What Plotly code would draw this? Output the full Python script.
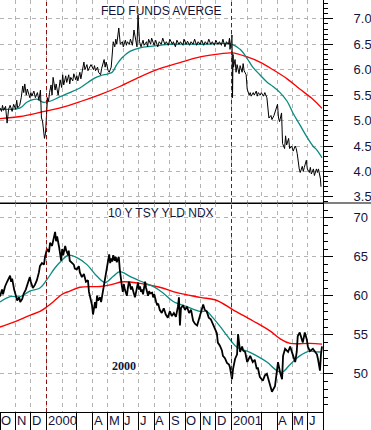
import plotly.graph_objects as go
from plotly.subplots import make_subplots

# ---------------- DATA ----------------
fed_dates = [
"1999-10-01","1999-10-04","1999-10-06","1999-10-08","1999-10-12","1999-10-15","1999-10-18","1999-10-21","1999-10-25","1999-10-28",
"1999-11-01","1999-11-03","1999-11-05","1999-11-09","1999-11-12","1999-11-15","1999-11-17","1999-11-19","1999-11-22","1999-11-24","1999-11-29",
"1999-12-01","1999-12-03","1999-12-07","1999-12-10","1999-12-14","1999-12-17","1999-12-20","1999-12-22","1999-12-24","1999-12-28","1999-12-30",
"2000-01-03","2000-01-05","2000-01-07","2000-01-10","2000-01-12","2000-01-14","2000-01-18","2000-01-20","2000-01-24","2000-01-26","2000-01-28","2000-01-31",
"2000-02-02","2000-02-04","2000-02-08","2000-02-10","2000-02-14","2000-02-16","2000-02-18","2000-02-22","2000-02-24","2000-02-28",
"2000-03-01","2000-03-03","2000-03-07","2000-03-09","2000-03-13","2000-03-15","2000-03-17","2000-03-21","2000-03-23","2000-03-27","2000-03-29",
"2000-04-03","2000-04-05","2000-04-07","2000-04-11","2000-04-13","2000-04-17","2000-04-19","2000-04-24","2000-04-26","2000-04-28",
"2000-05-02","2000-05-04","2000-05-08","2000-05-10","2000-05-12","2000-05-15","2000-05-17","2000-05-19","2000-05-23","2000-05-25","2000-05-26","2000-05-30",
"2000-06-01","2000-06-05","2000-06-07","2000-06-09","2000-06-13","2000-06-15","2000-06-19","2000-06-22","2000-06-26","2000-06-28","2000-06-30",
"2000-07-03","2000-07-06","2000-07-10","2000-07-12","2000-07-17","2000-07-19","2000-07-21","2000-07-25","2000-07-27",
"2000-08-01","2000-08-04","2000-08-08","2000-08-11","2000-08-15","2000-08-18","2000-08-22","2000-08-25","2000-08-29",
"2000-09-01","2000-09-06","2000-09-08","2000-09-12","2000-09-15","2000-09-19","2000-09-22","2000-09-27","2000-09-29",
"2000-10-03","2000-10-06","2000-10-10","2000-10-13","2000-10-17","2000-10-20","2000-10-24","2000-10-27","2000-10-31",
"2000-11-03","2000-11-07","2000-11-10","2000-11-14","2000-11-17","2000-11-21","2000-11-24","2000-11-28",
"2000-12-01","2000-12-05","2000-12-08","2000-12-12","2000-12-15","2000-12-19","2000-12-22","2000-12-26","2000-12-28","2000-12-29",
"2001-01-02","2001-01-03","2001-01-04","2001-01-05","2001-01-08","2001-01-10","2001-01-12","2001-01-16","2001-01-18","2001-01-22","2001-01-24","2001-01-26","2001-01-30",
"2001-02-01","2001-02-05","2001-02-07","2001-02-09","2001-02-13","2001-02-15","2001-02-19","2001-02-21","2001-02-23","2001-02-27",
"2001-03-01","2001-03-05","2001-03-08","2001-03-12","2001-03-14","2001-03-16","2001-03-20","2001-03-22","2001-03-26","2001-03-29",
"2001-04-02","2001-04-04","2001-04-06","2001-04-10","2001-04-12","2001-04-16","2001-04-18","2001-04-20","2001-04-24","2001-04-26","2001-04-30",
"2001-05-03","2001-05-07","2001-05-09","2001-05-11","2001-05-15","2001-05-17","2001-05-21","2001-05-23","2001-05-25","2001-05-29","2001-05-31",
"2001-06-04","2001-06-06","2001-06-08","2001-06-12","2001-06-14","2001-06-18","2001-06-20","2001-06-22","2001-06-26","2001-06-27",
]
fed_vals = [
5.25,5.18,5.30,5.20,5.28,4.95,5.22,5.30,5.18,5.32,
5.22,5.40,5.25,5.30,5.45,5.68,5.55,5.72,5.50,5.62,5.45,
5.55,5.48,5.58,5.45,5.55,5.40,5.60,5.05,5.00,4.65,4.75,
5.45,5.38,5.55,5.70,5.50,5.85,5.60,5.72,5.50,5.62,5.80,5.65,
5.90,5.70,5.88,5.75,5.90,5.72,5.85,5.78,5.92,5.80,
5.88,5.78,5.95,5.82,6.00,6.15,6.00,6.10,5.98,6.05,6.10,
6.00,6.08,5.98,6.05,5.95,5.90,6.02,6.20,6.05,6.15,
5.98,5.95,6.05,6.35,6.55,6.45,6.60,6.50,6.82,6.60,6.50,6.55,
6.45,6.58,6.48,6.55,6.50,6.60,6.48,6.78,6.55,6.45,7.08,
6.55,6.45,6.58,6.48,6.55,6.45,6.60,6.50,6.62,
6.48,6.58,6.45,6.55,6.50,6.62,6.50,6.55,6.48,
6.60,6.50,6.55,6.45,6.58,6.50,6.55,6.48,6.60,
6.50,6.56,6.48,6.55,6.50,6.60,6.48,6.55,6.50,
6.58,6.48,6.55,6.50,6.60,6.50,6.55,6.48,
6.58,6.50,6.55,6.48,6.60,6.45,6.55,6.50,6.62,6.40,
6.68,5.45,6.30,6.05,6.20,5.95,6.10,5.92,6.08,5.95,6.12,5.98,5.90,
5.62,5.50,5.55,5.48,5.55,5.50,5.58,5.48,5.55,5.50,
5.55,5.48,5.55,5.45,5.20,5.05,5.10,5.02,5.10,5.18,
5.32,5.05,4.98,5.15,4.55,4.45,4.70,4.52,4.65,4.45,4.50,
4.40,4.50,4.45,4.35,4.05,3.98,4.10,4.00,4.08,4.22,4.05,
3.98,4.08,3.95,4.05,3.92,4.05,3.98,4.05,3.85,3.70,
]

fed_ma50_dates = ["1999-10-01","1999-11-10","1999-11-23","1999-12-13","1999-12-25","2000-01-08","2000-01-28","2000-02-16","2000-03-07","2000-03-23",
"2000-04-06","2000-04-16","2000-05-02","2000-05-10","2000-05-19","2000-05-29","2000-06-14","2000-07-04","2000-07-24","2000-08-12","2000-09-01",
"2000-10-31","2001-01-02","2001-01-18","2001-02-01","2001-02-12","2001-02-26","2001-03-12","2001-03-24","2001-04-07","2001-04-21","2001-05-03",
"2001-05-16","2001-05-30","2001-06-11","2001-06-19","2001-06-29"]
fed_ma50 = [5.22,5.25,5.36,5.42,5.36,5.38,5.47,5.55,5.64,5.75,
5.84,5.88,5.92,5.95,6.10,6.23,6.36,6.43,6.46,6.48,6.50,
6.50,6.50,6.40,6.22,6.05,5.90,5.76,5.67,5.55,5.38,5.14,
4.92,4.68,4.50,4.42,4.27]

fed_ma200_dates = ["1999-10-01","1999-11-10","1999-12-19","2000-01-28","2000-03-07","2000-04-16","2000-05-25","2000-07-04","2000-08-12","2000-09-21",
"2000-10-31","2000-12-09","2001-01-02","2001-02-01","2001-02-26","2001-03-24","2001-04-21","2001-05-16","2001-06-11","2001-06-29"]
fed_ma200 = [5.04,5.08,5.16,5.25,5.37,5.51,5.67,5.86,6.02,6.14,
6.25,6.31,6.33,6.25,6.15,6.00,5.82,5.62,5.42,5.24]

tsy_dates = [
"1999-10-01","1999-10-05","1999-10-07","1999-10-11","1999-10-15","1999-10-19","1999-10-21","1999-10-23","1999-10-25","1999-10-29",
"1999-11-02","1999-11-04","1999-11-08","1999-11-10","1999-11-14","1999-11-17","1999-11-21","1999-11-25","1999-11-29",
"1999-12-01","1999-12-05","1999-12-09","1999-12-13","1999-12-17","1999-12-19","1999-12-23","1999-12-27","1999-12-29","1999-12-31",
"2000-01-02","2000-01-06","2000-01-08","2000-01-12","2000-01-16","2000-01-18","2000-01-20","2000-01-22","2000-01-26","2000-01-28","2000-01-30",
"2000-02-01","2000-02-03","2000-02-07","2000-02-09","2000-02-13","2000-02-14","2000-02-16","2000-02-20","2000-02-24","2000-02-26",
"2000-03-01","2000-03-05","2000-03-07","2000-03-11","2000-03-15","2000-03-19","2000-03-23","2000-03-25","2000-03-29","2000-03-31",
"2000-04-02","2000-04-04","2000-04-06","2000-04-08","2000-04-10","2000-04-12","2000-04-16","2000-04-18","2000-04-22","2000-04-24","2000-04-26","2000-04-28","2000-04-30",
"2000-05-02","2000-05-04","2000-05-06","2000-05-08","2000-05-10","2000-05-12","2000-05-15","2000-05-17","2000-05-19","2000-05-21","2000-05-23","2000-05-25","2000-05-27","2000-05-29","2000-05-31",
"2000-06-02","2000-06-04","2000-06-06","2000-06-08","2000-06-10","2000-06-12","2000-06-14","2000-06-16","2000-06-18","2000-06-20","2000-06-24","2000-06-26","2000-06-28","2000-06-30",
"2000-07-02","2000-07-04","2000-07-06","2000-07-08","2000-07-10","2000-07-12","2000-07-14","2000-07-16","2000-07-18","2000-07-20","2000-07-22","2000-07-24","2000-07-28","2000-07-30",
"2000-08-01","2000-08-03","2000-08-05","2000-08-07","2000-08-09","2000-08-12","2000-08-16","2000-08-20","2000-08-24","2000-08-28",
"2000-09-01","2000-09-05","2000-09-09","2000-09-13","2000-09-17","2000-09-19","2000-09-21","2000-09-23","2000-09-27",
"2000-10-01","2000-10-05","2000-10-09","2000-10-13","2000-10-17","2000-10-21","2000-10-25","2000-10-29",
"2000-11-02","2000-11-06","2000-11-09","2000-11-13","2000-11-17","2000-11-21","2000-11-25","2000-11-29",
"2000-12-03","2000-12-05","2000-12-09","2000-12-13","2000-12-15","2000-12-19","2000-12-23","2000-12-27","2000-12-29",
"2001-01-02","2001-01-04","2001-01-08","2001-01-12","2001-01-14","2001-01-18","2001-01-22","2001-01-24","2001-01-28",
"2001-02-01","2001-02-07","2001-02-12","2001-02-16","2001-02-20","2001-02-22","2001-02-26",
"2001-03-04","2001-03-08","2001-03-12","2001-03-18","2001-03-22","2001-03-28",
"2001-04-01","2001-04-03","2001-04-07","2001-04-11","2001-04-13","2001-04-17","2001-04-23","2001-04-27",
"2001-05-03","2001-05-07","2001-05-10","2001-05-12","2001-05-16","2001-05-22","2001-05-26","2001-05-30",
"2001-06-01","2001-06-05","2001-06-11","2001-06-19","2001-06-21","2001-06-25","2001-06-27","2001-06-29",
]
tsy_vals = [
59.9,60.8,60.2,61.2,61.8,62.3,62.6,61.8,62.2,60.8,
60.0,59.4,59.8,59.2,59.6,60.3,60.8,61.5,62.4,
61.8,61.0,61.4,62.0,63.0,63.8,64.2,64.0,65.0,65.5,
66.0,65.6,66.8,66.4,67.5,68.2,67.0,67.6,66.2,65.5,64.5,
66.0,65.2,66.4,65.8,65.2,65.8,64.5,64.2,64.0,63.5,
63.4,63.8,63.0,62.4,62.8,61.8,62.0,60.5,59.5,58.8,
57.6,58.2,59.2,58.4,60.0,59.4,59.8,59.2,60.8,61.6,62.2,63.0,63.8,
64.6,65.3,64.2,64.8,64.4,65.2,64.5,65.0,64.3,64.8,65.0,63.4,62.0,61.3,60.5,
61.5,60.8,60.2,60.0,61.0,61.8,61.5,60.8,61.2,60.6,59.8,60.4,61.2,61.7,
60.8,61.2,60.5,60.8,60.2,61.3,61.8,61.0,60.5,60.0,60.6,60.3,60.4,59.8,
60.2,59.5,59.2,58.8,59.0,58.2,57.8,58.4,57.6,57.2,
58.0,57.4,57.8,57.3,58.6,59.8,56.2,58.4,58.8,
58.2,58.6,57.8,58.2,56.8,56.4,56.2,57.0,
57.8,58.9,58.2,58.0,57.2,57.0,56.4,55.8,
55.2,54.0,53.6,53.0,52.3,52.0,51.4,51.2,50.8,
49.3,50.6,51.9,52.5,55.1,52.8,53.5,53.0,52.8,
51.5,52.3,51.5,51.8,50.6,50.8,49.6,
49.1,49.8,50.0,48.4,47.7,48.4,
50.6,51.5,50.2,49.3,52.3,53.2,52.8,53.5,
52.3,51.5,52.8,54.8,55.3,54.0,55.3,54.4,
53.5,52.9,53.2,52.5,51.9,50.4,52.5,53.5,
]

tsy_ma50_dates = ["1999-10-01","1999-10-21","1999-11-10","1999-11-29","1999-12-19","2000-01-02","2000-01-18","2000-02-01","2000-02-13","2000-03-01",
"2000-03-21","2000-04-10","2000-04-26","2000-05-12","2000-05-25","2000-06-14","2000-07-04","2000-07-30","2000-08-18","2000-09-07",
"2000-10-05","2000-10-31","2000-11-13","2000-11-25","2000-12-09","2000-12-29","2001-01-12","2001-02-01","2001-02-20","2001-03-12",
"2001-04-01","2001-04-11","2001-04-27","2001-05-16","2001-06-05","2001-06-19","2001-06-29"]
tsy_ma50 = [59.2,59.9,59.9,60.6,61.0,62.1,63.6,64.6,65.2,64.9,
64.0,62.5,61.7,62.5,63.1,62.5,61.9,61.2,60.4,59.3,
58.6,58.0,58.0,57.2,56.1,54.4,53.4,52.9,52.3,51.5,
50.4,50.2,51.2,52.3,52.9,52.8,52.8]

tsy_ma200_dates = ["1999-10-01","1999-10-31","1999-11-29","1999-12-19","2000-01-02","2000-01-14","2000-02-01","2000-02-16","2000-03-07","2000-04-16",
"2000-05-06","2000-05-31","2000-07-04","2000-08-12","2000-09-15","2000-10-31","2000-12-03","2001-01-04","2001-02-12","2001-03-18",
"2001-04-07","2001-04-27","2001-06-05","2001-06-29"]
tsy_ma200 = [56.0,56.7,57.5,58.0,58.6,59.2,60.2,60.6,61.1,61.2,
61.4,61.8,61.6,61.1,60.4,59.8,59.4,58.2,56.8,55.5,
54.5,53.9,53.9,53.8]

sep_ticks = ["1999-10-01","1999-11-01","1999-12-01","2000-01-01","2000-03-01","2000-04-01","2000-05-01","2000-06-01",
             "2000-07-01","2000-08-01","2000-09-01","2000-10-01","2000-11-01","2000-12-01","2001-01-01","2001-03-01",
             "2001-04-01","2001-05-01","2001-06-01","2001-07-01"]
label_dates = ["1999-10-01","1999-11-01","1999-12-01","2000-01-01","2000-04-01","2000-05-01","2000-06-01","2000-07-01",
               "2000-08-01","2000-09-01","2000-10-01","2000-11-01","2000-12-01","2001-01-01","2001-04-01","2001-05-01","2001-06-01"]
label_texts = ["O","N","D","2000","A","M","J","J","A","S","O","N","D","2001","A","M","J"]
year_lines = ["2000-01-01","2001-01-01"]

# ---------------- STYLE ----------------
TXT = "#14143a"
GRID = "#b4b4b4"
TEAL = "#0a8a80"
RED = "#ff0000"
FONT = "Liberation Sans, Arial, sans-serif"

fig = make_subplots(rows=2, cols=1, shared_xaxes=True, vertical_spacing=0, row_heights=[203, 209])

fig.add_trace(go.Scatter(x=fed_ma200_dates, y=fed_ma200, mode="lines", line=dict(color=RED, width=1.3, shape="spline")), 1, 1)
fig.add_trace(go.Scatter(x=fed_ma50_dates, y=fed_ma50, mode="lines", line=dict(color=TEAL, width=1.3, shape="spline")), 1, 1)
fig.add_trace(go.Scatter(x=fed_dates, y=fed_vals, mode="lines", line=dict(color="black", width=1)), 1, 1)

fig.add_trace(go.Scatter(x=tsy_ma200_dates, y=tsy_ma200, mode="lines", line=dict(color=RED, width=1.4, shape="spline")), 2, 1)
fig.add_trace(go.Scatter(x=tsy_ma50_dates, y=tsy_ma50, mode="lines", line=dict(color=TEAL, width=1.3, shape="spline")), 2, 1)
fig.add_trace(go.Scatter(x=tsy_dates, y=tsy_vals, mode="lines", line=dict(color="black", width=1.8)), 2, 1)

xcommon = dict(type="date", range=["1999-10-01", "2001-07-01"], zeroline=False, automargin=False,
               showgrid=True, gridcolor=GRID, griddash="4px,4px", gridwidth=1,
               tickmode="array", tickvals=sep_ticks, showticklabels=False,
               minor=dict(dtick="M1", tick0="1999-10-01", showgrid=True, gridcolor=GRID, griddash="4px,4px", gridwidth=1),
               showline=True, linecolor="black", linewidth=1)
fig.update_xaxes(**xcommon)
fig.update_xaxes(ticks="", row=1, col=1)
fig.update_xaxes(ticks="outside", ticklen=18, tickcolor="black", tickwidth=1, row=2, col=1)

ycommon = dict(side="right", zeroline=False, automargin=False, showgrid=True, gridcolor=GRID, griddash="4px,4px", gridwidth=1,
               ticks="outside", ticklen=9, tickcolor="black", tickwidth=1,
               showline=True, linecolor="black", linewidth=1,
               tickfont=dict(family=FONT, size=13, color=TXT), ticklabelstandoff=18)
fig.update_yaxes(**ycommon)
fig.update_yaxes(range=[3.38, 7.37], tick0=3.5, dtick=0.5, tickformat=".1f",
                 minor=dict(dtick=0.1, tick0=3.5, ticks="outside", ticklen=4, tickcolor="black", showgrid=False),
                 row=1, col=1)
fig.update_yaxes(range=[45.1, 71.9], tick0=50, dtick=5,
                 minor=dict(dtick=1, tick0=50, ticks="outside", ticklen=4, tickcolor="black", showgrid=False),
                 row=2, col=1)

shapes = []
for d in year_lines:
    shapes.append(dict(type="line", xref="x", yref="paper", x0=d, x1=d, y0=0, y1=1,
                       line=dict(color="#8b1010", width=1, dash="4px,3px")))
shapes.append(dict(type="line", xref="paper", yref="paper", x0=0, x1=371/323, y0=209/412, y1=209/412,
                   line=dict(color="black", width=1)))

annotations = [
    dict(text="FED FUNDS AVERGE", xref="paper", yref="paper", x=0.498, y=1 - 11/412, showarrow=False,
         xanchor="center", yanchor="middle", font=dict(family=FONT, size=12, color=TXT)),
    dict(text="10 Y TSY YLD NDX", xref="paper", yref="paper", x=0.498, y=1 - 213/412, showarrow=False,
         xanchor="center", yanchor="middle", font=dict(family=FONT, size=12, color=TXT)),
    dict(text="<b>2000</b>", xref="x2", yref="y2", x="2000-06-03", y=51.0, showarrow=False,
         xanchor="center", yanchor="middle", font=dict(family="Liberation Serif, Times New Roman, serif", size=12, color=TXT)),
]
for d, t in zip(label_dates, label_texts):
    annotations.append(dict(text=t, xref="x2", yref="paper", x=d, y=0, xanchor="left", yanchor="top",
                            xshift=0, yshift=0, showarrow=False, borderpad=0,
                            font=dict(family=FONT, size=13, color=TXT)))

fig.update_layout(template="none", width=371, height=430, margin=dict(l=0, r=48, t=0, b=18, autoexpand=False),
                  paper_bgcolor="white", plot_bgcolor="white", showlegend=False,
                  shapes=shapes, annotations=annotations)

fig.write_html("out.html", config={"displayModeBar": False},
               post_script="document.body.style.margin='0';document.body.style.overflow='hidden';")
